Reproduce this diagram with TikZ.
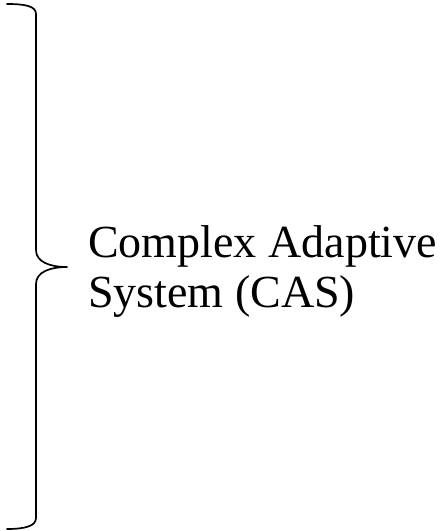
\documentclass[tikz,border=0pt]{standalone}
\usepackage{fontspec}
\setmainfont{Liberation Serif}
\begin{document}
\begin{tikzpicture}[x=1pt,y=-1pt,
  lbl/.style={anchor=base west,inner sep=0pt,font=\fontsize{46}{50}\selectfont},
  bracepath/.style={line width=1.7pt,line cap=round,line join=round}]
\useasboundingbox (0,0) rectangle (446,531);
\coordinate (bt) at (7,4);
\coordinate (tip) at (67,267);
\coordinate (bb) at (7,529);
\draw[bracepath] (bt) .. controls (25,4) and (36,6) .. (36,14)
  -- (36,250) .. controls (36,262) and (50,267) .. (tip)
  .. controls (50,267) and (36,272) .. (36,284)
  -- (36,518) .. controls (36,526) and (25,529) .. (bb);
\node[lbl] (l1) at (88,257) {Complex Adaptive};
\node[lbl] (l2) at (88,307) {System (CAS)};
\end{tikzpicture}
\end{document}
